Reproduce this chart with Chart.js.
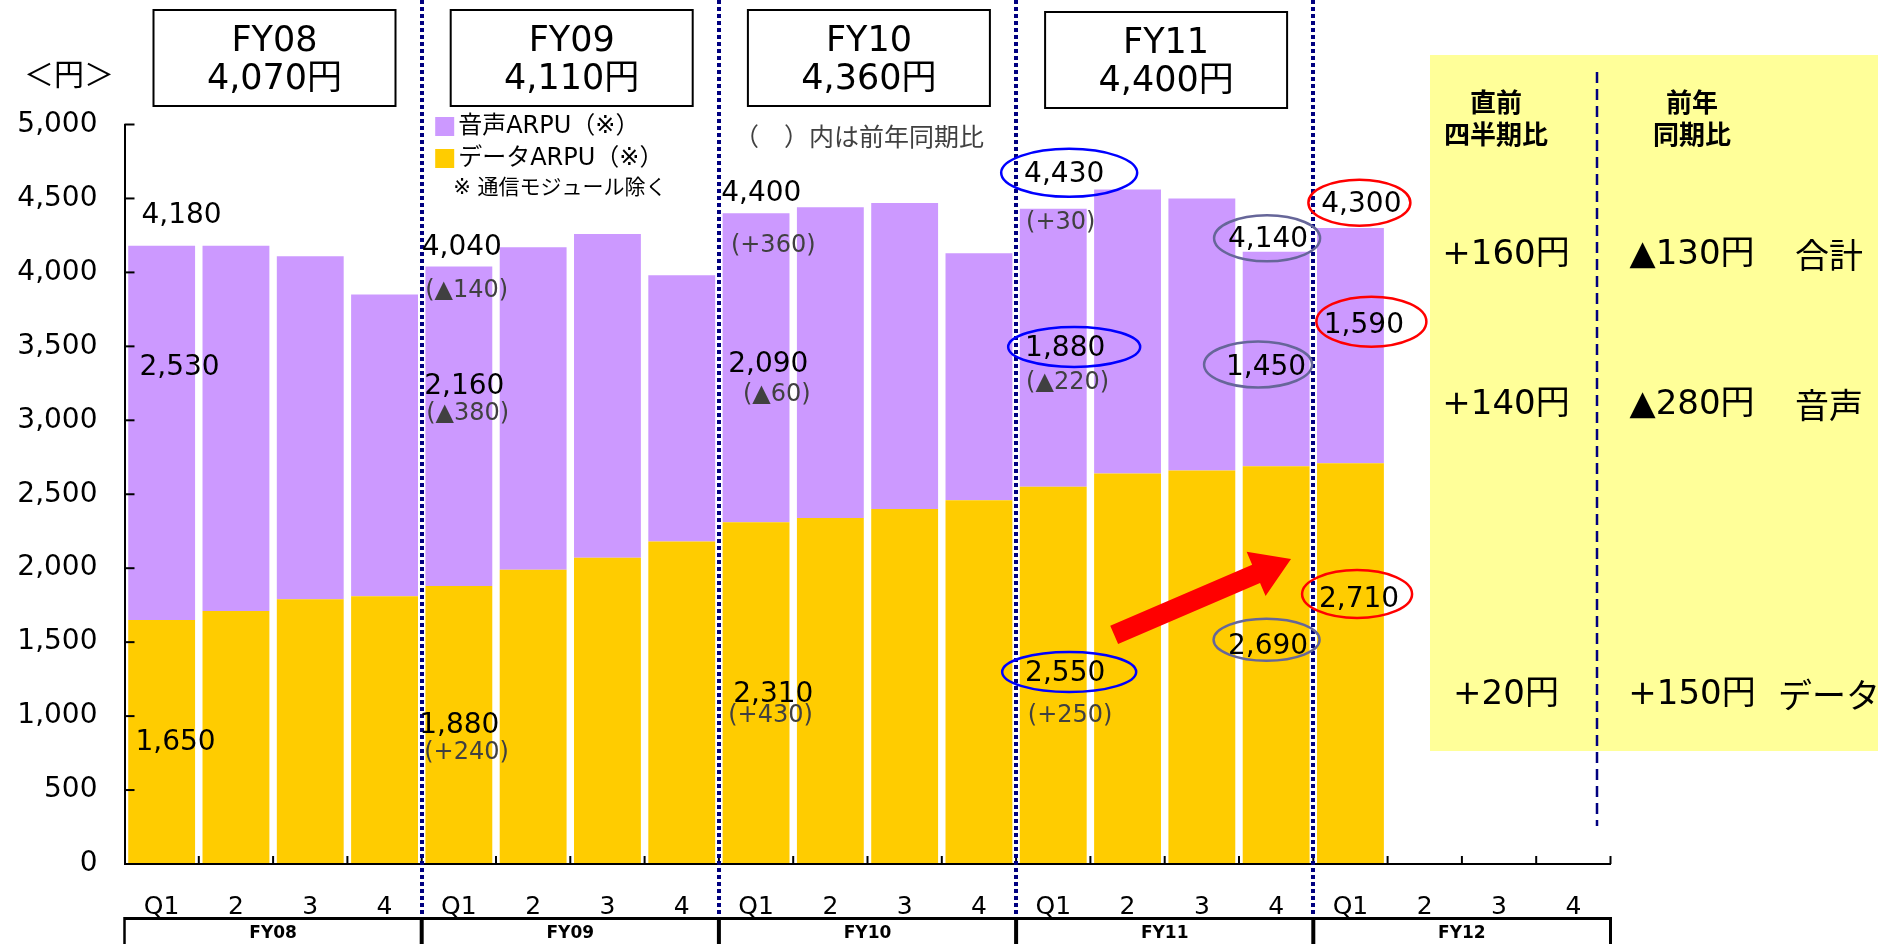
<!DOCTYPE html>
<html>
<head>
<meta charset="utf-8">
<script src="https://cdn.jsdelivr.net/npm/chart.js@4.4.1/dist/chart.umd.min.js"></script>
<style>
  html, body { margin: 0; padding: 0; background: #ffffff; }
  #wrap { width: 1878px; height: 944px; position: relative; }
</style>
</head>
<body>
<div id="wrap"><canvas id="arpu" width="1878" height="944"></canvas></div>
<script>
// ---- data ----
const quarterLabels = ['Q1','2','3','4','Q1','2','3','4','Q1','2','3','4','Q1','2','3','4','Q1','2','3','4'];
const fiscalYears = ['FY08','FY09','FY10','FY11','FY12'];
const annualArpu = ['4,070円','4,110円','4,360円','4,400円'];
const dataArpu  = [1650,1710,1790,1810, 1880,1990,2070,2180, 2310,2340,2400,2460, 2550,2640,2660,2690, 2710,null,null,null];
const voiceArpu = [2530,2470,2320,2040, 2160,2180,2190,1800, 2090,2100,2070,1670, 1880,1920,1840,1450, 1590,null,null,null];
const yoyTotalText = ['(▲140)','(+360)','(+30)'];
const yoyVoiceText = ['(▲380)','(▲60)','(▲220)'];
const yoyDataText  = ['(+240)','(+430)','(+250)'];
const panelRows   = ['合計','音声','データ'];
const qoqChange   = ['+160円','+140円','+20円'];
const yoyChange   = ['▲130円','▲280円','+150円'];
const yTicks = [0,500,1000,1500,2000,2500,3000,3500,4000,4500,5000];

const totalArpu = dataArpu.map((d, i) => d == null ? null : d + voiceArpu[i]);
const fmt = v => v.toLocaleString('en-US');

// ---- styling ----
const NUM_FONT = '"DejaVu Sans", "Noto Sans CJK JP", sans-serif';
const JP_FONT = '"Noto Sans CJK JP", sans-serif';
const NAVY = '#000080';
const RING = { blue: '#0000FF', slate: '#666699', red: '#FF0000' };

// value labels: category index, which series, x offset from the category's left edge, y anchor in axis units
const valueLabels = [
  { i: 0,  s: 'total', dx: 17,  at: 4385 },
  { i: 0,  s: 'voice', dx: 15,  at: 3357 },
  { i: 0,  s: 'data',  dx: 11,  at: 821 },
  { i: 4,  s: 'total', dx: 0,   at: 4166 },
  { i: 4,  s: 'voice', dx: 2.5, at: 3226 },
  { i: 4,  s: 'data',  dx: -2.5,at: 933 },
  { i: 8,  s: 'total', dx: 2.3, at: 4531 },
  { i: 8,  s: 'voice', dx: 9.3, at: 3376 },
  { i: 8,  s: 'data',  dx: 14.3,at: 1145 },
  { i: 12, s: 'total', dx: 8,   at: 4660, ring: { c: 'blue', ox: 5,  oy: -2, rx: 68, ry: 24 } },
  { i: 12, s: 'voice', dx: 9,   at: 3486, ring: { c: 'blue', ox: 9,  oy: -1.5, rx: 66, ry: 20 } },
  { i: 12, s: 'data',  dx: 9,   at: 1285, ring: { c: 'blue', ox: 4,  oy: -2, rx: 67, ry: 20 } },
  { i: 15, s: 'total', dx: -11, at: 4224, ring: { c: 'slate', ox: -1, oy: -1, rx: 53, ry: 23 } },
  { i: 15, s: 'voice', dx: -13, at: 3357, ring: { c: 'slate', ox: -8, oy: -3, rx: 54, ry: 23 } },
  { i: 15, s: 'data',  dx: -11, at: 1469, ring: { c: 'slate', ox: -1.5, oy: -7, rx: 53, ry: 21 } },
  { i: 16, s: 'total', dx: 8,   at: 4458, ring: { c: 'red', ox: -2, oy: -2, rx: 51, ry: 23 } },
  { i: 16, s: 'voice', dx: 10.5,at: 3640, ring: { c: 'red', ox: 7.5, oy: -4, rx: 55, ry: 25 } },
  { i: 16, s: 'data',  dx: 5.7, at: 1785, ring: { c: 'red', ox: -2, oy: -6, rx: 55, ry: 24 } }
];
// year-over-year notes under the first-quarter labels
const yoyLabels = [
  { i: 4,  list: yoyTotalText, k: 0, dx: 3.5, at: 3875 },
  { i: 4,  list: yoyVoiceText, k: 0, dx: 4.5, at: 3043 },
  { i: 4,  list: yoyDataText,  k: 0, dx: 2.5, at: 751 },
  { i: 8,  list: yoyTotalText, k: 1, dx: 12,  at: 4183 },
  { i: 8,  list: yoyVoiceText, k: 1, dx: 24,  at: 3172 },
  { i: 8,  list: yoyDataText,  k: 1, dx: 9.3, at: 1001 },
  { i: 12, list: yoyTotalText, k: 2, dx: 10,  at: 4338 },
  { i: 12, list: yoyVoiceText, k: 2, dx: 10,  at: 3253 },
  { i: 12, list: yoyDataText,  k: 2, dx: 11.7,at: 1001 }
];

const seriesOf = { total: totalArpu, voice: voiceArpu, data: dataArpu };

function line(ctx, x1, y1, x2, y2) {
  ctx.beginPath(); ctx.moveTo(x1, y1); ctx.lineTo(x2, y2); ctx.stroke();
}

const overlay = {
  id: 'overlay',
  beforeDraw(chart) {
    const ctx = chart.ctx;
    ctx.save();
    // comparison panel background
    ctx.fillStyle = '#FFFF99';
    ctx.fillRect(1430, 55, 448, 696);
    ctx.strokeStyle = NAVY;
    ctx.lineWidth = 2.5;
    ctx.setLineDash([11, 6]);
    line(ctx, 1597, 72, 1597, 826);
    ctx.restore();
  },
  afterDraw(chart) {
    const ctx = chart.ctx;
    const xs = chart.scales.x, ys = chart.scales.y;
    const area = chart.chartArea;
    const cw = (area.right - area.left) / quarterLabels.length;
    const catLeft = i => xs.getPixelForValue(i) - cw / 2;
    const xAt = f => area.left + (f + 0.5) * cw;
    ctx.save();

    // inside tick marks
    ctx.strokeStyle = '#000';
    ctx.lineWidth = 2;
    yTicks.forEach(v => { const y = ys.getPixelForValue(v); line(ctx, area.left, y, area.left + 10, y); });
    for (let i = 1; i <= quarterLabels.length; i++) {
      const x = area.left + i * cw;
      line(ctx, x, area.bottom, x, area.bottom - 8);
    }

    // fiscal-year bracket under the quarter labels
    const bTop = 918.5;
    ctx.lineWidth = 3;
    line(ctx, area.left, bTop, area.right, bTop);
    for (let g = 0; g <= fiscalYears.length; g++) {
      const x = area.left + g * 4 * cw;
      ctx.lineWidth = (g === 0) ? 2.5 : (g === fiscalYears.length ? 3 : 4);
      line(ctx, x, bTop - 1.5, x, 944);
    }
    ctx.fillStyle = '#000';
    ctx.font = 'bold 17px ' + NUM_FONT;
    ctx.textAlign = 'center';
    ctx.textBaseline = 'middle';
    fiscalYears.forEach((fy, g) => ctx.fillText(fy, area.left + (g * 4 + 2) * cw, 934));

    // dotted separators between fiscal years
    ctx.strokeStyle = NAVY;
    ctx.lineWidth = 4;
    ctx.setLineDash([4, 3]);
    for (let g = 1; g < fiscalYears.length; g++) {
      const x = Math.round(area.left + g * 4 * cw);
      line(ctx, x, 0, x, bTop - 2);
    }
    ctx.setLineDash([]);

    // annual average boxes
    annualArpu.forEach((txt, g) => {
      const bx = area.left + g * 4 * cw + 29;
      const by = g === 3 ? 12 : 10;
      ctx.fillStyle = '#fff';
      ctx.fillRect(bx, by, 242, 96);
      ctx.strokeStyle = '#000';
      ctx.lineWidth = 2;
      ctx.strokeRect(bx, by, 242, 96);
      ctx.fillStyle = '#000';
      ctx.font = '35px ' + NUM_FONT;
      ctx.textAlign = 'center';
      ctx.fillText(fiscalYears[g], bx + 121, by + 32);
      ctx.fillText(txt, bx + 121, by + 70);
    });

    // unit
    ctx.textAlign = 'left';
    ctx.font = '30px ' + JP_FONT;
    ctx.fillText('＜円＞', 24, 74);

    // legend
    const lgX = area.left + 4 * cw + 13.5;
    const ds = chart.data.datasets;
    ctx.fillStyle = ds[1].backgroundColor;
    ctx.fillRect(lgX, 117, 19, 19);
    ctx.fillStyle = ds[0].backgroundColor;
    ctx.fillRect(lgX, 149, 19, 19);
    ctx.fillStyle = '#000';
    ctx.font = '24px ' + NUM_FONT;
    ctx.fillText(ds[1].label, lgX + 23, 127);
    ctx.fillText(ds[0].label, lgX + 23, 159);
    ctx.font = '21px ' + NUM_FONT;
    ctx.fillText('※ 通信モジュール除く', lgX + 18, 189);

    ctx.fillStyle = '#404040';
    ctx.font = '25px ' + JP_FONT;
    ctx.fillText('（　）内は前年同期比', area.left + 8 * cw + 15, 136);

    // value labels with optional rings
    valueLabels.forEach(l => {
      const v = seriesOf[l.s][l.i];
      const txt = fmt(v);
      const x = catLeft(l.i) + l.dx;
      const y = ys.getPixelForValue(l.at);
      ctx.font = '28px ' + NUM_FONT;
      ctx.fillStyle = '#000';
      ctx.textAlign = 'left';
      ctx.fillText(txt, x, y);
      if (l.ring) {
        const w = ctx.measureText(txt).width;
        ctx.strokeStyle = RING[l.ring.c];
        ctx.lineWidth = 2.5;
        ctx.beginPath();
        ctx.ellipse(x + w / 2 + l.ring.ox, y + l.ring.oy, l.ring.rx, l.ring.ry, 0, 0, Math.PI * 2);
        ctx.stroke();
      }
    });
    ctx.fillStyle = '#404040';
    ctx.font = '24px ' + NUM_FONT;
    yoyLabels.forEach(l => {
      ctx.fillText(l.list[l.k], catLeft(l.i) + l.dx, ys.getPixelForValue(l.at));
    });

    // trend arrow for data ARPU
    const x1 = xAt(12.82), y1 = ys.getPixelForValue(1549);
    const x2 = xAt(15.20), y2 = ys.getPixelForValue(2063);
    const ang = Math.atan2(y2 - y1, x2 - x1);
    const len = Math.hypot(x2 - x1, y2 - y1);
    const sw = 10, hl = 38, hw = 24;
    ctx.save();
    ctx.translate(x1, y1);
    ctx.rotate(ang);
    ctx.fillStyle = '#FF0000';
    ctx.beginPath();
    ctx.moveTo(0, -sw); ctx.lineTo(len - hl, -sw); ctx.lineTo(len - hl, -hw);
    ctx.lineTo(len, 0);
    ctx.lineTo(len - hl, hw); ctx.lineTo(len - hl, sw); ctx.lineTo(0, sw);
    ctx.closePath();
    ctx.fill();
    ctx.restore();

    // comparison panel text
    ctx.fillStyle = '#000';
    ctx.textAlign = 'center';
    ctx.font = 'bold 26px ' + JP_FONT;
    ctx.fillText('直前', 1496, 102);
    ctx.fillText('四半期比', 1496, 134);
    ctx.fillText('前年', 1692, 102);
    ctx.fillText('同期比', 1692, 134);
    const rowY = [255, 405, 695];
    panelRows.forEach((r, k) => {
      ctx.font = '34px ' + NUM_FONT;
      ctx.fillText(qoqChange[k], 1506, rowY[k]);
      ctx.fillText(yoyChange[k], 1692, rowY[k]);
      ctx.font = '34px ' + JP_FONT;
      ctx.fillText(r, 1829, rowY[k]);
    });
    ctx.restore();
  }
};

new Chart(document.getElementById('arpu'), {
  type: 'bar',
  data: {
    labels: quarterLabels,
    datasets: [
      { label: 'データARPU（※）', data: dataArpu, backgroundColor: '#FFCC00', barPercentage: 0.9, categoryPercentage: 1.0 },
      { label: '音声ARPU（※）', data: voiceArpu, backgroundColor: '#CC99FF', barPercentage: 0.9, categoryPercentage: 1.0 }
    ]
  },
  options: {
    responsive: false,
    animation: false,
    devicePixelRatio: 1,
    layout: { padding: { left: 0, top: 124.5, right: 267.5, bottom: 0 } },
    plugins: { legend: { display: false }, tooltip: { enabled: false } },
    scales: {
      x: {
        stacked: true,
        grid: { display: false, drawTicks: false },
        border: { display: true, color: '#000', width: 2, z: 1 },
        ticks: { color: '#000', font: { family: NUM_FONT, size: 25 }, padding: 28, maxRotation: 0, autoSkip: false },
        afterFit(s) { s.height = 80; }
      },
      y: {
        stacked: true,
        min: 0, max: 5000,
        grid: { display: false, drawTicks: false },
        border: { display: true, color: '#000', width: 2, z: 1 },
        ticks: { stepSize: 500, color: '#000', font: { family: NUM_FONT, size: 28 }, padding: 27, callback: v => fmt(v) },
        afterFit(s) { s.width = 124.5; }
      }
    }
  },
  plugins: [overlay]
});
</script>
</body>
</html>
